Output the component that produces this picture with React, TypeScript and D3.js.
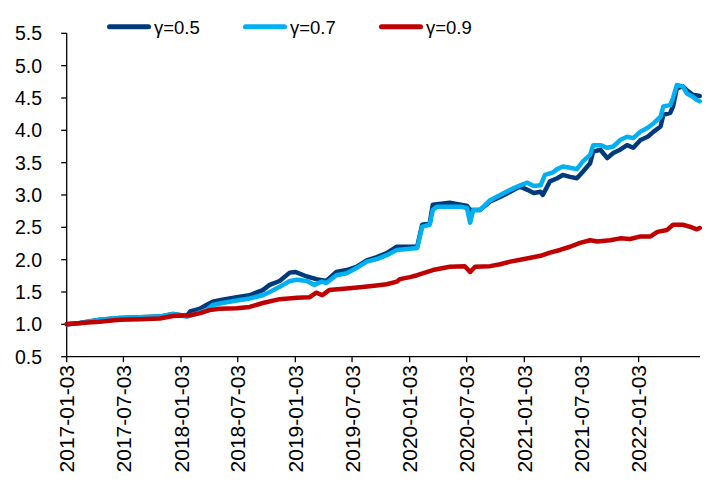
import React from "react";
import * as d3 from "d3";

const seriesNames = ["γ=0.5", "γ=0.7", "γ=0.9"];
const seriesColors = ["#003A7A", "#00B0F0", "#C00000"];

const gamma05: [string, number][] = [
  ["2017-01-03", 1.0], ["2017-02-15", 1.02], ["2017-04-18", 1.07], ["2017-06-20", 1.1],
  ["2017-08-24", 1.11], ["2017-10-27", 1.12], ["2017-12-08", 1.16], ["2018-01-22", 1.13],
  ["2018-02-01", 1.2], ["2018-03-03", 1.24], ["2018-03-25", 1.3], ["2018-04-14", 1.35],
  ["2018-05-15", 1.38], ["2018-06-30", 1.42], ["2018-08-10", 1.45], ["2018-09-21", 1.53],
  ["2018-10-13", 1.61], ["2018-11-14", 1.67], ["2018-12-16", 1.8], ["2019-01-02", 1.81],
  ["2019-02-09", 1.74], ["2019-03-11", 1.7], ["2019-04-12", 1.67], ["2019-05-14", 1.81],
  ["2019-06-16", 1.84], ["2019-07-17", 1.89], ["2019-08-19", 1.99], ["2019-09-20", 2.04],
  ["2019-10-22", 2.1], ["2019-11-23", 2.2], ["2019-12-03", 2.2], ["2020-01-27", 2.2],
  ["2020-02-12", 2.54], ["2020-03-07", 2.56], ["2020-03-17", 2.85], ["2020-05-10", 2.88],
  ["2020-06-27", 2.84], ["2020-07-04", 2.83], ["2020-07-14", 2.77], ["2020-08-15", 2.77],
  ["2020-09-16", 2.9], ["2020-10-18", 2.97], ["2020-11-19", 3.05], ["2020-12-21", 3.13],
  ["2021-01-13", 3.08], ["2021-02-02", 3.03], ["2021-02-24", 3.05], ["2021-03-03", 3.0],
  ["2021-03-26", 3.21], ["2021-04-18", 3.26], ["2021-05-06", 3.31], ["2021-05-29", 3.28],
  ["2021-06-20", 3.26], ["2021-07-09", 3.36], ["2021-08-01", 3.49], ["2021-08-11", 3.67],
  ["2021-09-03", 3.7], ["2021-09-25", 3.57], ["2021-10-14", 3.65], ["2021-11-05", 3.7],
  ["2021-11-27", 3.77], ["2021-12-17", 3.73], ["2022-01-09", 3.85], ["2022-02-01", 3.9],
  ["2022-02-20", 3.98], ["2022-03-14", 4.06], ["2022-03-23", 4.24], ["2022-04-14", 4.27],
  ["2022-04-23", 4.37], ["2022-05-05", 4.65], ["2022-05-24", 4.68], ["2022-06-06", 4.62],
  ["2022-06-25", 4.55], ["2022-07-17", 4.53],
];

const gamma07: [string, number][] = [
  ["2017-01-03", 1.0], ["2017-02-15", 1.02], ["2017-04-18", 1.07], ["2017-06-20", 1.1],
  ["2017-08-24", 1.11], ["2017-10-27", 1.12], ["2017-12-08", 1.16], ["2018-01-22", 1.12],
  ["2018-02-17", 1.16], ["2018-03-25", 1.22], ["2018-04-14", 1.3], ["2018-05-15", 1.33],
  ["2018-06-30", 1.37], ["2018-08-10", 1.4], ["2018-09-21", 1.45], ["2018-10-13", 1.5],
  ["2018-11-14", 1.58], ["2018-12-16", 1.67], ["2019-01-09", 1.69], ["2019-02-09", 1.67],
  ["2019-03-05", 1.61], ["2019-03-27", 1.66], ["2019-04-12", 1.64], ["2019-05-14", 1.76],
  ["2019-06-16", 1.79], ["2019-07-17", 1.87], ["2019-08-19", 1.97], ["2019-09-20", 2.01],
  ["2019-10-22", 2.07], ["2019-11-23", 2.15], ["2020-01-04", 2.17], ["2020-01-27", 2.18],
  ["2020-02-12", 2.51], ["2020-03-07", 2.54], ["2020-03-17", 2.77], ["2020-03-30", 2.82],
  ["2020-06-12", 2.82], ["2020-07-04", 2.8], ["2020-07-14", 2.57], ["2020-07-24", 2.77],
  ["2020-08-15", 2.77], ["2020-09-16", 2.92], ["2020-10-18", 3.0], ["2020-11-19", 3.08],
  ["2020-12-21", 3.15], ["2021-01-13", 3.19], ["2021-02-02", 3.14], ["2021-02-24", 3.15],
  ["2021-03-10", 3.31], ["2021-04-05", 3.35], ["2021-04-18", 3.4], ["2021-05-06", 3.44],
  ["2021-05-29", 3.42], ["2021-06-20", 3.4], ["2021-07-09", 3.52], ["2021-08-01", 3.62],
  ["2021-08-11", 3.77], ["2021-09-03", 3.77], ["2021-09-25", 3.73], ["2021-10-14", 3.75],
  ["2021-11-05", 3.85], ["2021-11-27", 3.9], ["2021-12-17", 3.88], ["2022-01-09", 3.98],
  ["2022-02-01", 4.04], ["2022-02-20", 4.11], ["2022-03-14", 4.21], ["2022-03-23", 4.37],
  ["2022-04-14", 4.39], ["2022-04-23", 4.5], ["2022-05-05", 4.7], ["2022-05-24", 4.68],
  ["2022-06-06", 4.57], ["2022-06-25", 4.52], ["2022-07-08", 4.47], ["2022-07-17", 4.45],
];

const gamma09: [string, number][] = [
  ["2017-01-03", 1.0], ["2017-02-15", 1.02], ["2017-04-18", 1.04], ["2017-06-20", 1.07],
  ["2017-08-24", 1.08], ["2017-10-27", 1.09], ["2017-12-08", 1.13], ["2018-02-01", 1.14],
  ["2018-03-03", 1.17], ["2018-04-04", 1.22], ["2018-05-06", 1.24], ["2018-06-30", 1.25],
  ["2018-08-10", 1.27], ["2018-09-21", 1.33], ["2018-11-14", 1.39], ["2019-01-09", 1.41],
  ["2019-02-18", 1.42], ["2019-03-11", 1.49], ["2019-03-30", 1.45], ["2019-04-21", 1.53],
  ["2019-06-25", 1.56], ["2019-08-29", 1.59], ["2019-10-22", 1.62], ["2019-11-23", 1.66],
  ["2019-12-03", 1.7], ["2020-01-04", 1.73], ["2020-01-27", 1.76], ["2020-03-17", 1.84],
  ["2020-05-10", 1.89], ["2020-06-27", 1.9], ["2020-07-14", 1.81], ["2020-07-30", 1.89],
  ["2020-09-16", 1.9], ["2020-10-18", 1.93], ["2020-11-19", 1.97], ["2020-12-21", 2.0],
  ["2021-01-23", 2.03], ["2021-02-24", 2.06], ["2021-03-26", 2.11], ["2021-04-27", 2.15],
  ["2021-05-29", 2.2], ["2021-06-30", 2.26], ["2021-08-01", 2.3], ["2021-08-24", 2.28],
  ["2021-10-04", 2.3], ["2021-11-05", 2.33], ["2021-12-07", 2.32], ["2022-01-09", 2.36],
  ["2022-02-10", 2.36], ["2022-03-04", 2.43], ["2022-04-04", 2.46], ["2022-04-23", 2.54],
  ["2022-05-24", 2.54], ["2022-06-15", 2.51], ["2022-07-08", 2.47], ["2022-07-17", 2.49],
];

const xTickLabels = [
  "2017-01-03", "2017-07-03", "2018-01-03", "2018-07-03", "2019-01-03", "2019-07-03",
  "2020-01-03", "2020-07-03", "2021-01-03", "2021-07-03", "2022-01-03",
];
const yTicks = [0.5, 1.0, 1.5, 2.0, 2.5, 3.0, 3.5, 4.0, 4.5, 5.0, 5.5];
const xDomain = ["2017-01-03", "2022-07-18"];

const W = 711;
const H = 486;
const left = 66.7;
const right = 700;
const top = 33.3;
const bottom = 356.7;
const font = "'Liberation Sans', Arial, Helvetica, sans-serif";

export default function App() {
  const parse = d3.utcParse("%Y-%m-%d");
  const x = d3.scaleUtc().domain(xDomain.map((d) => parse(d)!)).range([left, right]);
  const y = d3.scaleLinear().domain([0.5, 5.5]).range([bottom, top]);
  const line = d3
    .line<[string, number]>()
    .x((d) => x(parse(d[0])!))
    .y((d) => y(d[1]));
  const allSeries = [gamma05, gamma07, gamma09];
  const legendX = [107, 243, 379];

  return (
    <svg
      width={W}
      height={H}
      style={{ position: "absolute", left: 0, top: 0, background: "#fff" }}
      fontFamily={font}
    >
      <rect width={W} height={H} fill="#fff" />
      {/* legend */}
      {seriesNames.map((n, i) => (
        <g key={n}>
          <line x1={legendX[i] + 2.5} x2={legendX[i] + 41.5} y1={26.7} y2={26.7} stroke={seriesColors[i]} strokeWidth={5} strokeLinecap="round" />
          <text x={legendX[i] + 47} y={33.8} fontSize={18.5} fill="#000">{n}</text>
        </g>
      ))}
      {/* y axis */}
      <line x1={left} x2={left} y1={top} y2={bottom} stroke="#000" strokeWidth={1.3} />
      {yTicks.map((t) => (
        <g key={t}>
          <line x1={left - 5.5} x2={left} y1={y(t)} y2={y(t)} stroke="#000" strokeWidth={1.3} />
          <text x={42} y={y(t)} dy="0.36em" textAnchor="end" fontSize={19.5} fill="#000">
            {t.toFixed(1)}
          </text>
        </g>
      ))}
      {/* x axis */}
      <line x1={left} x2={right} y1={bottom} y2={bottom} stroke="#000" strokeWidth={1.3} />
      {xTickLabels.map((t) => {
        const xx = x(parse(t)!);
        return (
          <g key={t}>
            <line x1={xx} x2={xx} y1={bottom} y2={bottom + 5.5} stroke="#000" strokeWidth={1.3} />
            <text transform={`translate(${xx},365) rotate(-90)`} dy="0.36em" textAnchor="end" fontSize={21} fill="#000">
              {t}
            </text>
          </g>
        );
      })}
      {/* lines */}
      {allSeries.map((s, i) => (
        <path key={i} d={line(s) || ""} fill="none" stroke={seriesColors[i]} strokeWidth={4.5} strokeLinejoin="round" strokeLinecap="round" />
      ))}
    </svg>
  );
}
